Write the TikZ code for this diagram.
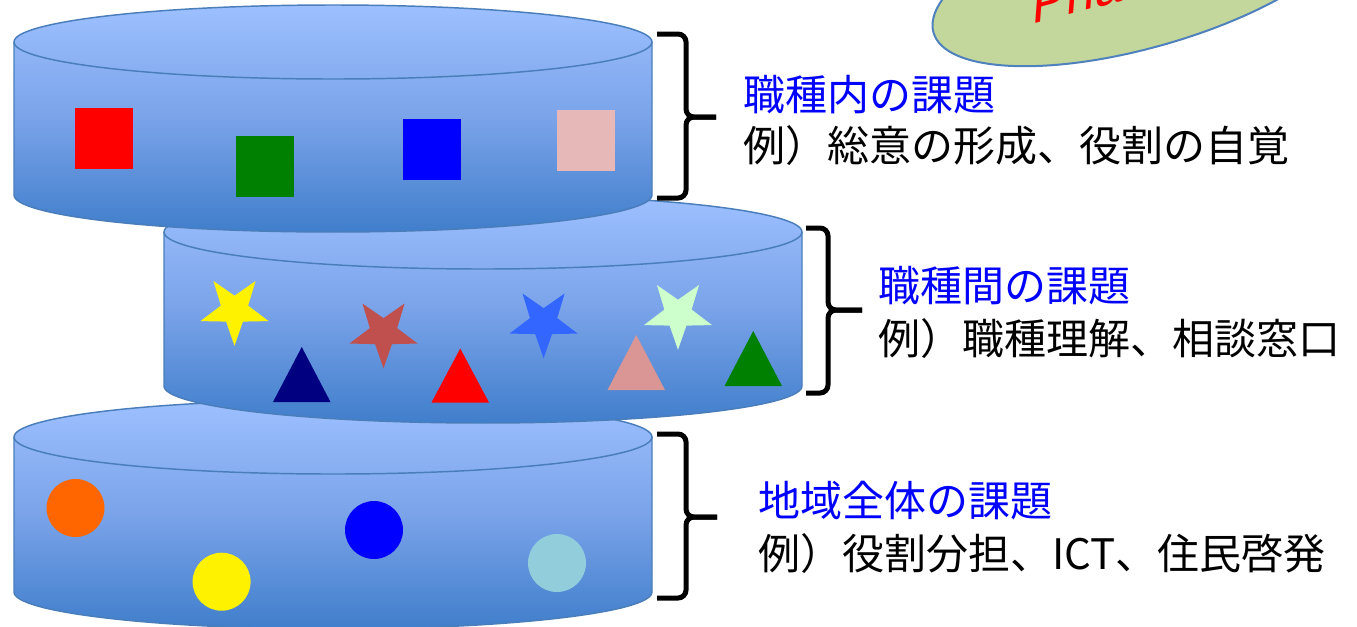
\documentclass[tikz,border=0pt]{standalone}
\usepackage{fontspec}
\setmainfont{Liberation Sans}
\newfontfamily\jp{Noto Sans CJK JP}
\usetikzlibrary{shapes.geometric}
\definecolor{cylTop}{RGB}{157,192,255}
\definecolor{cylMid}{RGB}{122,163,233}
\definecolor{cylBot}{RGB}{64,126,203}
\definecolor{cylEdge}{RGB}{74,126,187}
\definecolor{sqPink}{RGB}{230,185,184}
\definecolor{sqGreen}{RGB}{0,128,0}
\definecolor{stBrown}{RGB}{192,80,77}
\definecolor{stBlue}{RGB}{51,102,255}
\definecolor{stLight}{RGB}{204,255,204}
\definecolor{trNavy}{RGB}{0,0,128}
\definecolor{trPink}{RGB}{217,150,148}
\definecolor{ciOrange}{RGB}{255,102,0}
\definecolor{ciLight}{RGB}{146,205,220}
\definecolor{ellGreen}{RGB}{195,214,155}
\definecolor{ellEdge}{RGB}{79,129,189}
\newcommand\drawcyl[3]{%
  \path[cylfill] (#1-319,-#2) -- (#1-319,-#3)
    arc[start angle=180,end angle=360,x radius=319,y radius=37]
    -- (#1+319,-#2)
    arc[start angle=0,end angle=180,x radius=319,y radius=37] -- cycle;
  \draw[cylline] (#1-319,-#2) -- (#1-319,-#3)
    arc[start angle=180,end angle=360,x radius=319,y radius=37]
    -- (#1+319,-#2);
  \draw[cylline] (#1,-#2) ellipse [x radius=319,y radius=37];
}
\begin{document}
\begin{tikzpicture}[x=0.75pt,y=0.75pt,
  cylfill/.style={top color=cylTop,bottom color=cylBot,middle color=cylMid},
  cylline/.style={draw=cylEdge,line width=1.1pt},
  brk/.style={draw=black,line width=3.75pt,rounded corners=6pt},
  head/.style={font=\jp\fontsize{31.5}{38}\selectfont,text=blue,anchor=base west,inner sep=0pt},
  expl/.style={font=\jp\fontsize{31.5}{38}\selectfont,text=black,anchor=base west,inner sep=0pt},
  starshape/.style={star,star points=5,star point ratio=0.4,minimum size=21.5pt,inner sep=0pt,draw=none},
  dot/.style={x radius=29,y radius=29}]
\useasboundingbox (0,0) rectangle (1357,-626);
\clip (0,0) rectangle (1357,-626);

% bottom cylinder
\drawcyl{333}{437}{592}
\fill[ciOrange] (75.5,-508) ellipse [dot];
\fill[yellow] (221.6,-581.7) ellipse [dot];
\fill[blue] (374,-530) ellipse [dot];
\fill[ciLight] (557,-563) ellipse [dot];

% middle cylinder
\drawcyl{483}{232}{386}
\node[starshape,fill=yellow] (s1) at (234.5,-310) {};
\node[starshape,fill=stBrown] (s2) at (383.5,-332.5) {};
\node[starshape,fill=stBlue] (s3) at (543.6,-322.5) {};
\node[starshape,fill=stLight] (s4) at (678,-314) {};
\fill[trNavy] (273,-402) -- (330.5,-402) -- (301.75,-347) -- cycle;
\fill[red] (431.5,-402.5) -- (489,-402.5) -- (460.25,-348.5) -- cycle;
\fill[trPink] (607.5,-390) -- (665,-390) -- (636.25,-335) -- cycle;
\fill[sqGreen] (724.5,-386) -- (782,-386) -- (753.25,-331) -- cycle;

% top cylinder
\drawcyl{333}{42}{195}
\fill[red] (75,-108) rectangle (133,-169);
\fill[sqGreen] (236,-136) rectangle (294,-197);
\fill[blue] (403,-119) rectangle (461,-180);
\fill[sqPink] (557,-110) rectangle (615,-171);

% brackets
\draw[brk] (657,-34) -- (686,-34) -- (686,-117) -- (716,-117);
\draw[brk] (716,-117) -- (686,-117) -- (686,-198) -- (657,-198);
\draw[brk] (806,-228) -- (828,-228) -- (828,-310) -- (862,-310);
\draw[brk] (862,-310) -- (828,-310) -- (828,-393) -- (806,-393);
\draw[brk] (657,-434) -- (686,-434) -- (686,-517) -- (717,-517);
\draw[brk] (717,-517) -- (686,-517) -- (686,-598) -- (657,-598);

% texts
\node[head] (h1) at (743,-110) {職種内の課題};
\node[expl] (e1) at (743,-161) {例）総意の形成、役割の自覚};
\node[head] (h2) at (878,-301) {職種間の課題};
\node[expl] (e2) at (878,-354) {例）職種理解、相談窓口};
\node[head] (h3) at (758,-516) {地域全体の課題};
\node[expl] (e3) at (758,-569) {例）役割分担、ICT、住民啓発};

% green ellipse with red text
\draw[fill=ellGreen,draw=ellEdge,line width=1.5pt,rotate around={16:(1145,28)}]
  (1145,28) ellipse [x radius=220,y radius=75];
\begin{scope}[shift={(1031,-25)},rotate=15,xslant=0.35]
  \node[anchor=base west,inner sep=0pt,transform shape,text=red,font=\fontsize{40}{48}\selectfont] (ph) at (0,0) {Phase};
\end{scope}
\end{tikzpicture}
\end{document}
